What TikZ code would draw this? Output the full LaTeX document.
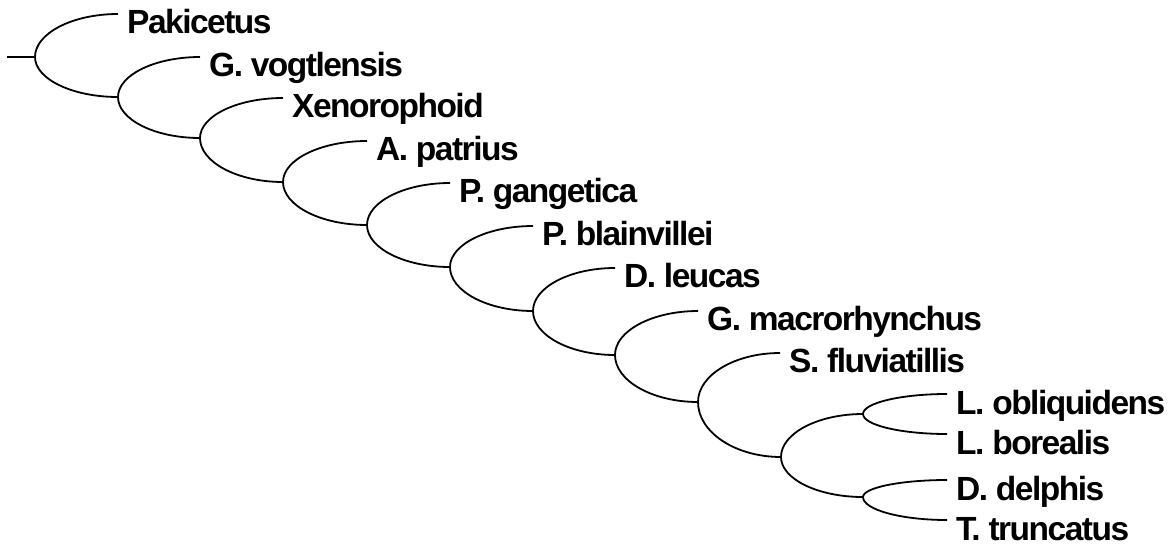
\documentclass[tikz,border=0pt]{standalone}
\usepackage{fontspec}
\newfontfamily\taxonfont{Liberation Sans}[LetterSpace=-4.5]
\usetikzlibrary{calc}

\tikzset{
	ramo/.style={line width=1.8pt, line cap=butt},
	taxon/.style={font=\taxonfont\bfseries\fontsize{33.5}{36}\selectfont, inner sep=0pt, anchor=base west},
}
% ramo curvo: verticale al nodo, orizzontale alla foglia
\newcommand{\curva}[2]{\draw[ramo] (#1) .. controls ($(#1)!0.55!(#1|-#2)$) and ($(#2)!0.55!(#1|-#2)$) .. (#2);}

\begin{document}
\begin{tikzpicture}[x=1pt, y=-1pt]
			\useasboundingbox (0,0) rectangle (1169,546);

			% Definisci i nodi interni
			\coordinate (radice) at (7,57);
			\coordinate (n0) at (35,57);
			\coordinate (n1) at (118,97);
			\coordinate (n2) at (200,138);
			\coordinate (n3) at (283,182);
			\coordinate (n4) at (367,225);
			\coordinate (n5) at (450,267);
			\coordinate (n6) at (533,311);
			\coordinate (n7) at (615,355);
			\coordinate (n8) at (698,402);
			\coordinate (n9) at (781,457);
			\coordinate (n10) at (863,414);
			\coordinate (n11) at (863,497);

			% Definisci le foglie
			\coordinate (f0) at (118,14);
			\coordinate (f1) at (200,57);
			\coordinate (f2) at (283,98);
			\coordinate (f3) at (367,141);
			\coordinate (f4) at (450,183);
			\coordinate (f5) at (533,226);
			\coordinate (f6) at (615,268);
			\coordinate (f7) at (698,311);
			\coordinate (f8) at (780,353);
			\coordinate (f9) at (947,394);
			\coordinate (f10) at (947,434);
			\coordinate (f11) at (947,480);
			\coordinate (f12) at (947,520);

			% Nomi
			\node[taxon] (pak) at (127,33) {Pakicetus};
			\node[taxon] (gvo) at (209,76) {G. vogtlensis};
			\node[taxon] (xen) at (292,117) {Xenorophoid};
			\node[taxon] (apa) at (376,160) {A. patrius};
			\node[taxon] (pga) at (459,202) {P. gangetica};
			\node[taxon] (pbl) at (542,245) {P. blainvillei};
			\node[taxon] (dle) at (624,287) {D. leucas};
			\node[taxon] (gma) at (707,330) {G. macrorhynchus};
			\node[taxon] (sfl) at (789,372) {S. fluviatillis};
			\node[taxon] (lob) at (956,414) {L. obliquidens};
			\node[taxon] (lbo) at (956,454) {L. borealis};
			\node[taxon] (dde) at (956,500) {D. delphis};
			\node[taxon] (ttr) at (956,540) {T. truncatus};

			% Collega i nodi
			\draw[ramo] (radice) -- (n0);
			\curva{n0}{f0}
			\curva{n0}{n1}
			\curva{n1}{f1}
			\curva{n1}{n2}
			\curva{n2}{f2}
			\curva{n2}{n3}
			\curva{n3}{f3}
			\curva{n3}{n4}
			\curva{n4}{f4}
			\curva{n4}{n5}
			\curva{n5}{f5}
			\curva{n5}{n6}
			\curva{n6}{f6}
			\curva{n6}{n7}
			\curva{n7}{f7}
			\curva{n7}{n8}
			\curva{n8}{f8}
			\curva{n8}{n9}
			\curva{n9}{n10}
			\curva{n9}{n11}
			\curva{n10}{f9}
			\curva{n10}{f10}
			\curva{n11}{f11}
			\curva{n11}{f12}
		\end{tikzpicture}
\end{document}
